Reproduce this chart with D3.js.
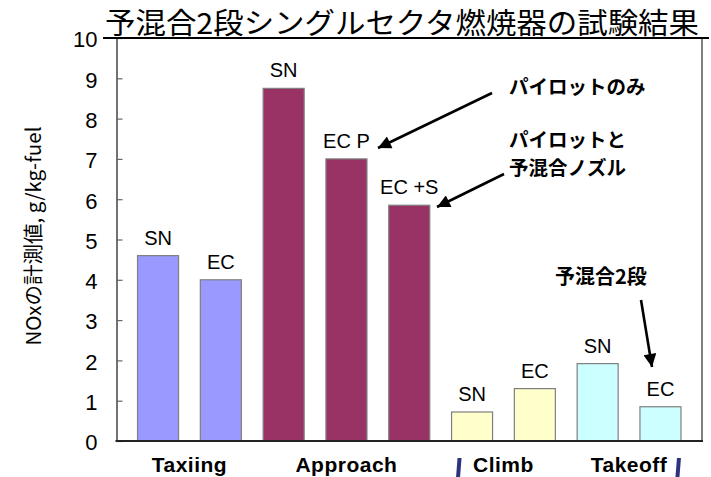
<!DOCTYPE html>
<html>
<head>
<meta charset="utf-8">
<script src="https://cdn.jsdelivr.net/npm/d3@7/dist/d3.min.js"></script>
<style>
  html, body { margin: 0; padding: 0; background: #fff; }
  svg { display: block; }
</style>
</head>
<body>
<svg id="chart" width="711" height="477"></svg>
<script>
// Flight phase of each bar, the condition label above it and the measured NOx
const phases = ["Taxiing", "Taxiing", "Approach", "Approach", "Approach", "Climb", "Climb", "Takeoff", "Takeoff"];
const barLabels = ["SN", "EC", "SN", "EC P", "EC +S", "SN", "EC", "SN", "EC"];
const noxValues = [4.6, 4.0, 8.75, 7.0, 5.85, 0.72, 1.3, 1.92, 0.85];
const phaseNames = ["Taxiing", "Approach", "Climb", "Takeoff"];
const phaseColors = ["#9999ff", "#993366", "#ffffcc", "#ccffff"];
const yTicks = [0, 1, 2, 3, 4, 5, 6, 7, 8, 9, 10];

const titleText = "予混合2段シングルセクタ燃焼器の試験結果";
const yLabel = "NOxの計測値, g/kg-fuel";

const svg = d3.select("#chart");
const plotL = 116.5, plotR = 702, plotT = 38, plotB = 441;

const x = d3.scaleBand().domain(d3.range(noxValues.length)).range([plotL, plotR])
  .paddingInner(0.347).paddingOuter(0.335);
const y = d3.scaleLinear().domain([0, 10]).range([plotB, plotT]);
const color = d3.scaleOrdinal().domain(phaseNames).range(phaseColors);

const latin = "Arial, 'Liberation Sans', sans-serif";
const cjk = "'Noto Sans CJK JP', 'Noto Sans CJK SC', sans-serif";

// right border of the plot frame
svg.append("line").attr("x1", plotR).attr("x2", plotR).attr("y1", plotT).attr("y2", plotB)
  .attr("stroke", "#555").attr("stroke-width", 1.5);

// bars
svg.append("g").selectAll("rect").data(noxValues).join("rect")
  .attr("x", (d, i) => x(i))
  .attr("y", d => y(d))
  .attr("width", x.bandwidth())
  .attr("height", d => y(0) - y(d))
  .attr("fill", (d, i) => color(phases[i]))
  .attr("stroke", "#7f7f7f")
  .attr("stroke-width", 1.2);

// condition labels above bars
svg.append("g").selectAll("text").data(noxValues).join("text")
  .attr("x", (d, i) => x(i) + x.bandwidth() / 2)
  .attr("y", d => y(d) - 11)
  .attr("text-anchor", "middle")
  .attr("font-family", latin)
  .attr("font-size", 20)
  .attr("fill", "#000")
  .text((d, i) => barLabels[i]);

// y axis with inward ticks
const yAxis = d3.axisLeft(y).tickValues(yTicks).tickSizeInner(-6).tickSizeOuter(0).tickPadding(19);
const gy = svg.append("g").attr("transform", `translate(${plotL},0)`).call(yAxis);
gy.select(".domain").attr("stroke", "#444").attr("stroke-width", 1.5);
gy.selectAll(".tick line").attr("stroke", "#666").attr("stroke-width", 1.2);
gy.selectAll(".tick text")
  .attr("font-family", "'Liberation Sans Narrow', 'Arial Narrow', Arial, sans-serif")
  .attr("font-size", 22).attr("fill", "#000").attr("dy", "0.4em");

// bottom baseline
svg.append("line").attr("x1", plotL - 1).attr("x2", plotR + 1).attr("y1", plotB).attr("y2", plotB)
  .attr("stroke", "#222").attr("stroke-width", 2);

// phase labels below axis, centred on each phase's bars
const phaseCenters = phaseNames.map(p => {
  const idx = d3.range(phases.length).filter(i => phases[i] === p);
  return { name: p, cx: d3.mean(idx, i => x(i) + x.bandwidth() / 2) };
});
svg.append("g").selectAll("text").data(phaseCenters).join("text")
  .attr("x", d => d.cx)
  .attr("y", 472)
  .attr("text-anchor", "middle")
  .attr("font-family", latin)
  .attr("font-weight", "bold")
  .attr("font-size", 21)
  .attr("letter-spacing", 0.5)
  .attr("fill", "#000")
  .text(d => d.name);

// small slanted navy marks beside Climb and Takeoff labels
const markX = [x(5) + 7, x(8) + x.bandwidth() - 3];
svg.append("g").selectAll("path").data(markX).join("path")
  .attr("d", d => `M${d - 1},458 L${d + 3},458 L${d + 1.5},477 L${d - 2.5},477 Z`)
  .attr("fill", "#2e3380");

// y axis title
svg.append("text")
  .attr("transform", "translate(41,236) rotate(-90)")
  .attr("text-anchor", "middle")
  .attr("font-family", cjk)
  .attr("font-size", 20.5)
  .attr("fill", "#000")
  .text(yLabel);

// chart title with its underline
svg.append("text")
  .attr("x", 105).attr("y", 34)
  .attr("font-family", cjk)
  .attr("font-size", 29)
  .attr("textLength", 594)
  .attr("lengthAdjust", "spacingAndGlyphs")
  .attr("fill", "#000")
  .text(titleText);
svg.append("line").attr("x1", 103).attr("x2", 709).attr("y1", plotT).attr("y2", plotT)
  .attr("stroke", "#000").attr("stroke-width", 2.2);

// annotations with arrows
const defs = svg.append("defs");
defs.append("marker").attr("id", "ah").attr("viewBox", "0 0 10 10")
  .attr("refX", 10).attr("refY", 5).attr("markerWidth", 6).attr("markerHeight", 5)
  .attr("markerUnits", "strokeWidth").attr("orient", "auto")
  .append("path").attr("d", "M0,0 L10,5 L0,10 Z").attr("fill", "#000");

const arrows = [
  { x1: 492, y1: 93, x2: 378, y2: 148 },
  { x1: 504, y1: 174, x2: 437, y2: 207 },
  { x1: 641, y1: 300, x2: 652, y2: 367 }
];
svg.append("g").selectAll("line").data(arrows).join("line")
  .attr("x1", d => d.x1).attr("y1", d => d.y1)
  .attr("x2", d => d.x2).attr("y2", d => d.y2)
  .attr("stroke", "#000").attr("stroke-width", 2.6)
  .attr("marker-end", "url(#ah)");

const notes = [
  { text: "パイロットのみ", x: 509, y: 94 },
  { text: "パイロットと", x: 509, y: 147 },
  { text: "予混合ノズル", x: 509, y: 175 }
];
svg.append("g").selectAll("text").data(notes).join("text")
  .attr("x", d => d.x).attr("y", d => d.y)
  .attr("font-family", cjk)
  .attr("font-weight", "bold")
  .attr("font-size", 19.5)
  .attr("fill", "#000")
  .text(d => d.text);

svg.append("text")
  .attr("x", 555).attr("y", 284)
  .attr("font-family", cjk)
  .attr("font-weight", "bold")
  .attr("font-size", 20)
  .attr("fill", "#000")
  .text("予混合2段");
</script>
</body>
</html>
